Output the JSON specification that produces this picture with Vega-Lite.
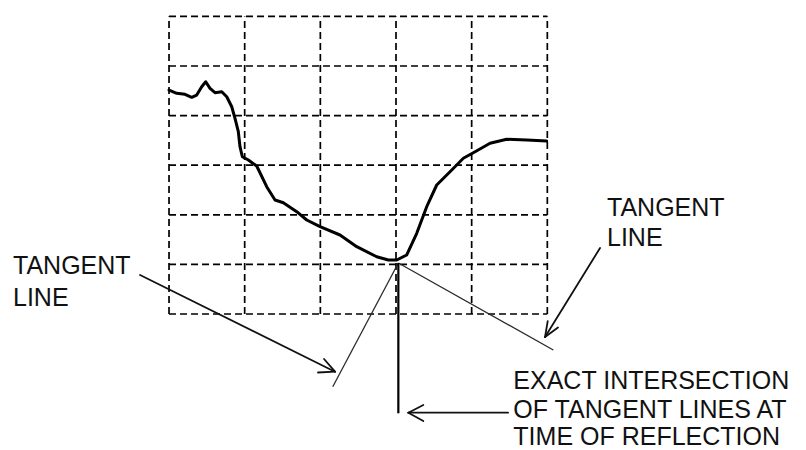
{
  "$schema": "https://vega.github.io/schema/vega-lite/v6.json",
  "width": 806,
  "height": 450,
  "padding": 0,
  "autosize": {"type": "none"},
  "background": "white",
  "config": {"view": {"stroke": null}},
  "datasets": {
    "curve": [
      {"t": 0.000, "v": 4.516}, {"t": 0.102, "v": 4.450}, {"t": 0.211, "v": 4.429}, {"t": 0.300, "v": 4.369},
      {"t": 0.366, "v": 4.415}, {"t": 0.432, "v": 4.583}, {"t": 0.485, "v": 4.683}, {"t": 0.542, "v": 4.550},
      {"t": 0.608, "v": 4.462}, {"t": 0.697, "v": 4.482}, {"t": 0.763, "v": 4.381}, {"t": 0.829, "v": 4.179},
      {"t": 0.872, "v": 3.946}, {"t": 0.916, "v": 3.675}, {"t": 0.938, "v": 3.373}, {"t": 0.969, "v": 3.171},
      {"t": 1.048, "v": 3.105}, {"t": 1.159, "v": 2.984}, {"t": 1.291, "v": 2.567}, {"t": 1.401, "v": 2.298},
      {"t": 1.511, "v": 2.244}, {"t": 1.688, "v": 2.063}, {"t": 1.820, "v": 1.895}, {"t": 1.996, "v": 1.760},
      {"t": 2.260, "v": 1.593}, {"t": 2.481, "v": 1.357}, {"t": 2.745, "v": 1.155}, {"t": 2.899, "v": 1.089},
      {"t": 3.010, "v": 1.089}, {"t": 3.142, "v": 1.190}, {"t": 3.274, "v": 1.627}, {"t": 3.406, "v": 2.163},
      {"t": 3.538, "v": 2.601}, {"t": 3.714, "v": 2.869}, {"t": 3.890, "v": 3.139}, {"t": 4.022, "v": 3.252},
      {"t": 4.243, "v": 3.442}, {"t": 4.463, "v": 3.522}, {"t": 4.728, "v": 3.508}, {"t": 4.992, "v": 3.488}
    ],
    "segs": [
      {"kind": "grid", "x": 0, "y": 0, "x2": 0, "y2": 6},
      {"kind": "grid", "x": 1, "y": 0, "x2": 1, "y2": 6},
      {"kind": "grid", "x": 2, "y": 0, "x2": 2, "y2": 6},
      {"kind": "grid", "x": 3, "y": 0, "x2": 3, "y2": 6},
      {"kind": "grid", "x": 4, "y": 0, "x2": 4, "y2": 6},
      {"kind": "grid", "x": 5, "y": 0, "x2": 5, "y2": 6},
      {"kind": "grid", "x": 0, "y": 0, "x2": 5, "y2": 0},
      {"kind": "grid", "x": 0, "y": 1, "x2": 5, "y2": 1},
      {"kind": "grid", "x": 0, "y": 2, "x2": 5, "y2": 2},
      {"kind": "grid", "x": 0, "y": 3, "x2": 5, "y2": 3},
      {"kind": "grid", "x": 0, "y": 4, "x2": 5, "y2": 4},
      {"kind": "grid", "x": 0, "y": 5, "x2": 5, "y2": 5},
      {"kind": "grid", "x": 0, "y": 6, "x2": 5, "y2": 6},
      {"kind": "tangent", "x": 3.031, "y": 1.028, "x2": 2.164, "y2": -1.466},
      {"kind": "tangent", "x": 3.031, "y": 1.028, "x2": 5.079, "y2": -0.726},
      {"kind": "marker", "x": 3.031, "y": 1.028, "x2": 3.031, "y2": -2.002},
      {"kind": "leader", "x": -0.383, "y": 0.786, "x2": 2.194, "y2": -1.163},
      {"kind": "leader", "x": 2.049, "y": -0.907, "x2": 2.194, "y2": -1.163},
      {"kind": "leader", "x": 1.969, "y": -1.179, "x2": 2.194, "y2": -1.163},
      {"kind": "leader", "x": 5.697, "y": 1.331, "x2": 4.970, "y2": -0.464},
      {"kind": "leader", "x": 5.141, "y": -0.272, "x2": 4.970, "y2": -0.464},
      {"kind": "leader", "x": 5.005, "y": -0.145, "x2": 4.970, "y2": -0.464},
      {"kind": "leader", "x": 4.481, "y": -1.990, "x2": 3.163, "y2": -1.990},
      {"kind": "leader", "x": 3.361, "y": -1.835, "x2": 3.163, "y2": -1.990},
      {"kind": "leader", "x": 3.361, "y": -2.157, "x2": 3.163, "y2": -1.990}
    ],
    "labels": [
      {"x": -2.062, "y": 0.800, "text": "TANGENT"},
      {"x": -2.062, "y": 0.167, "text": "LINE"},
      {"x": 5.789, "y": 1.976, "text": "TANGENT"},
      {"x": 5.789, "y": 1.371, "text": "LINE"},
      {"x": 4.551, "y": -1.510, "text": "EXACT INTERSECTION"},
      {"x": 4.551, "y": -2.100, "text": "OF TANGENT LINES AT"},
      {"x": 4.551, "y": -2.650, "text": "TIME OF REFLECTION"}
    ]
  },
  "layer": [
    {
      "data": {"name": "segs"},
      "transform": [{"filter": "datum.kind === 'grid'"}],
      "mark": {"type": "rule", "color": "#000000", "strokeWidth": 1.7, "strokeDash": [7, 4]},
      "encoding": {
        "x": {"field": "x", "type": "quantitative", "scale": {"domain": [-2.234, 8.419], "nice": false, "zero": false}, "axis": null},
        "x2": {"field": "x2"},
        "y": {"field": "y", "type": "quantitative", "scale": {"domain": [-2.742, 6.331], "nice": false, "zero": false}, "axis": null},
        "y2": {"field": "y2"}
      }
    },
    {
      "data": {"name": "segs"},
      "transform": [{"filter": "datum.kind === 'tangent'"}],
      "mark": {"type": "rule", "color": "#2a2a2a", "strokeWidth": 1.3},
      "encoding": {
        "x": {"field": "x", "type": "quantitative"},
        "x2": {"field": "x2"},
        "y": {"field": "y", "type": "quantitative"},
        "y2": {"field": "y2"}
      }
    },
    {
      "data": {"name": "segs"},
      "transform": [{"filter": "datum.kind === 'marker'"}],
      "mark": {"type": "rule", "color": "#000000", "strokeWidth": 2.2},
      "encoding": {
        "x": {"field": "x", "type": "quantitative"},
        "x2": {"field": "x2"},
        "y": {"field": "y", "type": "quantitative"},
        "y2": {"field": "y2"}
      }
    },
    {
      "data": {"name": "segs"},
      "transform": [{"filter": "datum.kind === 'leader'"}],
      "mark": {"type": "rule", "color": "#111111", "strokeWidth": 1.8, "strokeCap": "round"},
      "encoding": {
        "x": {"field": "x", "type": "quantitative"},
        "x2": {"field": "x2"},
        "y": {"field": "y", "type": "quantitative"},
        "y2": {"field": "y2"}
      }
    },
    {
      "data": {"name": "curve"},
      "mark": {"type": "line", "color": "#000000", "strokeWidth": 3, "strokeJoin": "round", "strokeCap": "round"},
      "encoding": {
        "x": {"field": "t", "type": "quantitative"},
        "y": {"field": "v", "type": "quantitative"}
      }
    },
    {
      "data": {"name": "labels"},
      "mark": {"type": "text", "align": "left", "baseline": "alphabetic", "font": "Liberation Sans", "fontSize": 25, "color": "#111111"},
      "encoding": {
        "x": {"field": "x", "type": "quantitative"},
        "y": {"field": "y", "type": "quantitative"},
        "text": {"field": "text"}
      }
    }
  ]
}
